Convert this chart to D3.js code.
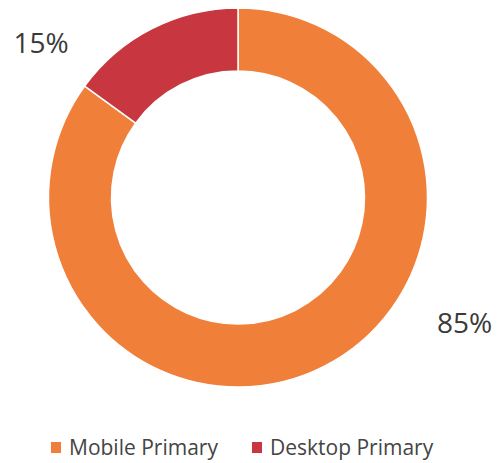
<!DOCTYPE html>
<html>
<head>
<meta charset="utf-8">
<script src="https://cdn.jsdelivr.net/npm/d3@7"></script>
<style>
  body { margin: 0; background: #fff; }
  text { font-family: "Open Sans", sans-serif; }
</style>
</head>
<body>
<div id="chart-area"></div>
<script>
// Data
var categories = ["Mobile Primary", "Desktop Primary"];
var values = [85, 15];
var colors = ["#F07F3A", "#C8363F"];

var width = 498, height = 463;
var cx = 238, cy = 197.5;
var outerR = 189.5, innerR = 126.5;

var svg = d3.select("#chart-area")
    .append("svg")
    .attr("width", width)
    .attr("height", height);

var g = svg.append("g")
    .attr("transform", "translate(" + cx + "," + cy + ")");

var pie = d3.pie().sort(null).value(function(d) { return d; });
var arcs = pie(values);

var arc = d3.arc().innerRadius(innerR).outerRadius(outerR);

g.selectAll("path.slice")
    .data(arcs)
    .enter().append("path")
    .attr("class", "slice")
    .attr("d", arc)
    .attr("fill", function(d, i) { return colors[i]; })
    .attr("stroke", "#fff")
    .attr("stroke-width", 1.5);

// Percentage labels (placed just outside the ring)
var labelAngle = [119 * Math.PI / 180, -52 * Math.PI / 180];
var labelR = [259, 250];
g.selectAll("text.pct")
    .data(arcs)
    .enter().append("text")
    .attr("class", "pct")
    .attr("x", function(d, i) { return Math.sin(labelAngle[i]) * labelR[i]; })
    .attr("y", function(d, i) { return -Math.cos(labelAngle[i]) * labelR[i]; })
    .attr("dy", "0.35em")
    .attr("text-anchor", "middle")
    .attr("font-size", "28px")
    .attr("fill", "#3a3a3a")
    .text(function(d) { return d.data + "%"; });

// Legend
var legendX = [51, 252];
var legend = svg.selectAll("g.legend")
    .data(categories)
    .enter().append("g")
    .attr("class", "legend")
    .attr("transform", function(d, i) { return "translate(" + legendX[i] + ",442)"; });

legend.append("rect")
    .attr("width", 10)
    .attr("height", 11)
    .attr("fill", function(d, i) { return colors[i]; });

legend.append("text")
    .attr("x", 18)
    .attr("y", 13)
    .attr("font-size", "21px")
    .attr("fill", "#444")
    .text(function(d) { return d; });
</script>
</body>
</html>
